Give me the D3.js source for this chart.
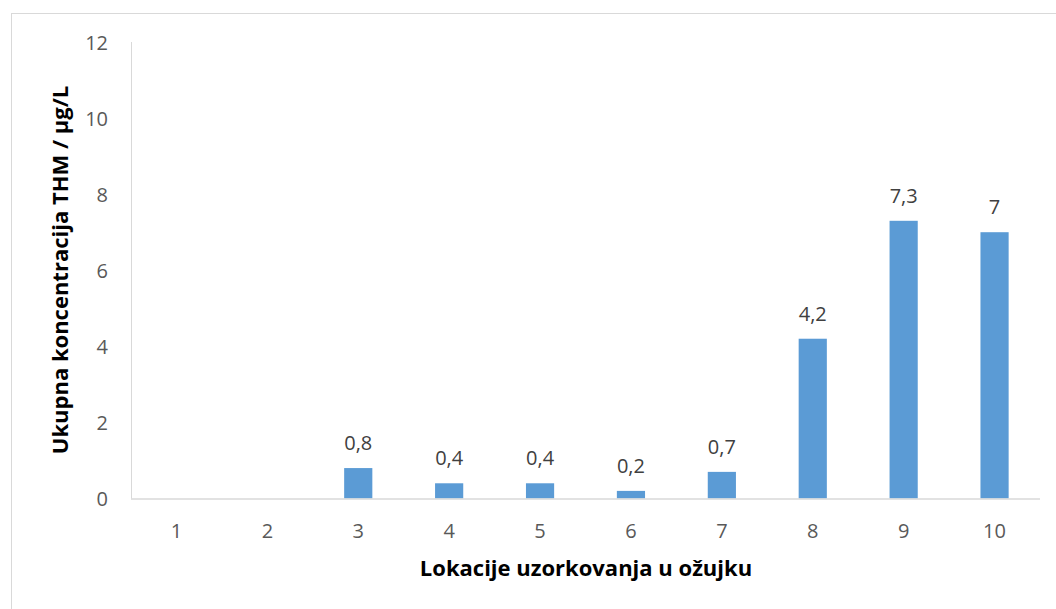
<!DOCTYPE html>
<html>
<head>
<meta charset="utf-8">
<script src="https://cdn.jsdelivr.net/npm/d3@7"></script>
<style>
  html, body { margin: 0; padding: 0; background: #fff; }
  svg { display: block; }
</style>
</head>
<body>
<svg id="chart" width="1056" height="609"></svg>
<script>
// Sampling locations and total THM concentration (µg/L)
const categories = ["1", "2", "3", "4", "5", "6", "7", "8", "9", "10"];
const values = [0, 0, 0.8, 0.4, 0.4, 0.2, 0.7, 4.2, 7.3, 7];
const valueLabels = ["", "", "0,8", "0,4", "0,4", "0,2", "0,7", "4,2", "7,3", "7"];
const yTicks = [0, 2, 4, 6, 8, 10, 12];
const xTitle = "Lokacije uzorkovanja u ožujku";
const yTitle = "Ukupna koncentracija THM / µg/L";

const svg = d3.select("#chart");
const font = "'Open Sans', 'Liberation Sans', sans-serif";

// outer chart frame
svg.append("rect")
  .attr("x", 11.5).attr("y", 13.5)
  .attr("width", 1060).attr("height", 620)
  .attr("fill", "#fff")
  .attr("stroke", "#d9d9d9").attr("stroke-width", 1);

const plot = { left: 131, right: 1040, top: 42, bottom: 498.5 };

const x = d3.scaleBand()
  .domain(categories)
  .range([plot.left, plot.right])
  .paddingInner(0.69)
  .paddingOuter(0.345);

const y = d3.scaleLinear()
  .domain([0, 12])
  .range([plot.bottom, plot.top]);

// y axis line
svg.append("line")
  .attr("x1", plot.left + 0.5).attr("x2", plot.left + 0.5)
  .attr("y1", plot.top).attr("y2", plot.bottom)
  .attr("stroke", "#d9d9d9").attr("stroke-width", 1);

// y tick labels
const yAxis = d3.axisLeft(y).tickValues(yTicks).tickSize(0).tickPadding(0);
const gy = svg.append("g").attr("transform", `translate(${plot.left - 23},0)`).call(yAxis);
gy.select(".domain").remove();
gy.selectAll("text")
  .attr("font-family", font).attr("font-size", 20)
  .attr("fill", "#595959").attr("text-anchor", "end")
  .attr("dy", "0.36em");

// bars
svg.append("g").selectAll("rect")
  .data(values)
  .join("rect")
  .attr("x", (d, i) => x(categories[i]))
  .attr("y", d => y(d))
  .attr("width", x.bandwidth())
  .attr("height", d => plot.bottom - y(d))
  .attr("fill", "#5b9bd5");

// x axis line
svg.append("line")
  .attr("x1", plot.left).attr("x2", plot.right)
  .attr("y1", plot.bottom + 0.5).attr("y2", plot.bottom + 0.5)
  .attr("stroke", "#d9d9d9").attr("stroke-width", 1.5);

// x tick labels
const xAxis = d3.axisBottom(x).tickSize(0).tickPadding(0);
const gx = svg.append("g").attr("transform", `translate(0,${plot.bottom + 39})`).call(xAxis);
gx.select(".domain").remove();
gx.selectAll("text")
  .attr("font-family", font).attr("font-size", 20)
  .attr("fill", "#595959").attr("dy", 0);

// value labels
svg.append("g").selectAll("text")
  .data(values)
  .join("text")
  .attr("x", (d, i) => x(categories[i]) + x.bandwidth() / 2)
  .attr("y", d => y(d) - 18)
  .attr("text-anchor", "middle")
  .attr("font-family", font).attr("font-size", 20)
  .attr("fill", "#404040")
  .text((d, i) => valueLabels[i]);

// axis titles
svg.append("text")
  .attr("x", 586)
  .attr("y", 576)
  .attr("text-anchor", "middle")
  .attr("font-family", font).attr("font-size", 22).attr("font-weight", "bold")
  .attr("fill", "#000")
  .text(xTitle);

svg.append("text")
  .attr("transform", `translate(68,270) rotate(-90)`)
  .attr("text-anchor", "middle")
  .attr("font-family", font).attr("font-size", 22).attr("font-weight", "bold")
  .attr("fill", "#000")
  .text(yTitle);
</script>
</body>
</html>
